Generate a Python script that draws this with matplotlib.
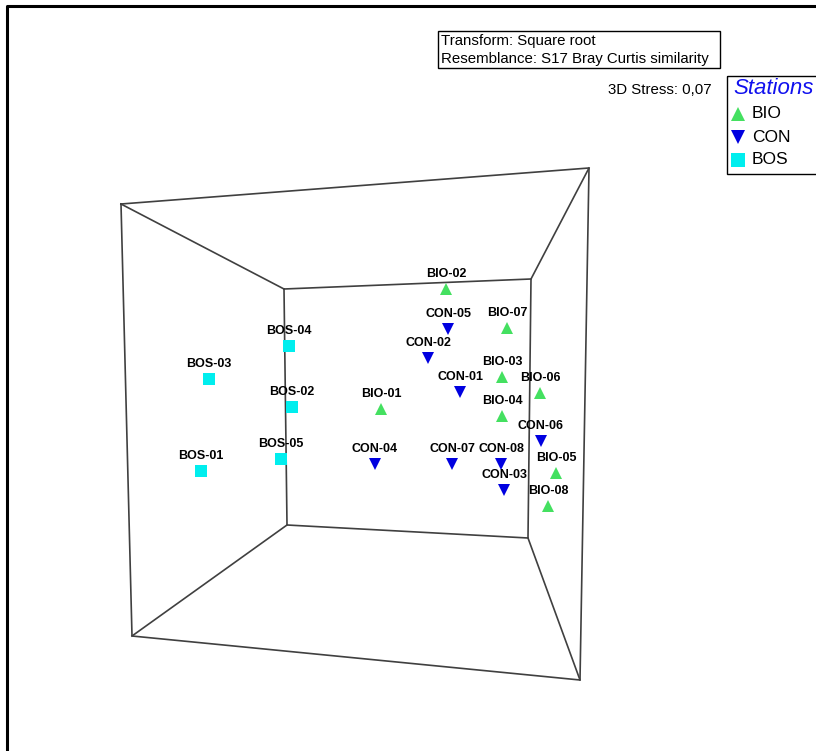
import matplotlib.pyplot as plt
from matplotlib.patches import Rectangle

# station positions in the 2D projection of the 3D MDS (picture units)
bio_names = ["BIO-01", "BIO-02", "BIO-03", "BIO-04", "BIO-05", "BIO-06", "BIO-07", "BIO-08"]
bio_x = [381, 446, 502, 502, 556, 540, 507, 548]
bio_y = [409, 289, 377, 416, 473, 393, 328, 506]

con_names = ["CON-01", "CON-02", "CON-03", "CON-04", "CON-05", "CON-06", "CON-07", "CON-08"]
con_x = [460, 428, 504, 375, 448, 541, 452, 501]
con_y = [392, 358, 490, 464, 329, 441, 464, 464]

bos_names = ["BOS-01", "BOS-02", "BOS-03", "BOS-04", "BOS-05"]
bos_x = [201, 292, 209, 289, 281]
bos_y = [471, 407, 379, 346, 459]

# corners of the 3D box: top-left, top-right, bottom-right, bottom-left
outer_x = [121, 589, 580, 132]
outer_y = [204, 168, 680, 636]
inner_x = [284, 531, 528, 287]
inner_y = [289, 279, 538, 525]

groups = ["BIO", "CON", "BOS"]
markers = ["^", "v", "s"]
colors = ["#44e060", "#0000e0", "#00eeee"]

plt.rcParams['font.family'] = ['Liberation Sans', 'DejaVu Sans']

fig = plt.figure(figsize=(8.16, 7.51), dpi=100)
ax = fig.add_axes([0, 0, 1, 1])
ax.set_xlim(0, 816)
ax.set_ylim(751, 0)
ax.axis("off")

# outer frame (left and top edges visible)
ax.plot([7, 7, 816], [751, 6, 6], color="black", lw=2.2, solid_capstyle="butt")

# box edges
box_kw = dict(color="#404040", lw=1.2, zorder=1)
ax.plot(outer_x + outer_x[:1], outer_y + outer_y[:1], **box_kw)
ax.plot(inner_x + inner_x[:1], inner_y + inner_y[:1], **box_kw)
for i in range(4):
    ax.plot([outer_x[i], inner_x[i]], [outer_y[i], inner_y[i]], **box_kw)

# points and labels
data = [(bio_names, bio_x, bio_y), (con_names, con_x, con_y), (bos_names, bos_x, bos_y)]
sizes = [9, 9, 8]
for (names, xs, ys), m, c, s in zip(data, markers, colors, sizes):
    ax.plot(xs, ys, linestyle="none", marker=m, color=c, markersize=s,
            markeredgewidth=0, zorder=3)
    for n, x, y in zip(names, xs, ys):
        ax.annotate(n, (x, y), xytext=(0, 10.5), textcoords="offset points",
                    ha="center", va="center", fontsize=9, fontweight="bold",
                    color="black", zorder=4)

# info box
ax.add_patch(Rectangle((438, 31), 282, 37, fill=False, edgecolor="black", lw=1))
ax.text(441, 41, "Transform: Square root", fontsize=10.8, va="center", ha="left")
ax.text(441, 59, "Resemblance: S17 Bray Curtis similarity", fontsize=10.8,
        va="center", ha="left")
ax.text(712, 90, "3D Stress: 0,07", fontsize=10.8, va="center", ha="right")

# legend
ax.add_patch(Rectangle((727, 76), 100, 98, fill=False, edgecolor="black", lw=1,
                       clip_on=False))
ax.text(733, 89, "Stations", fontsize=16, style="italic", color="#1010ee",
        va="center", ha="left")
leg_y = [114, 137, 160]
for g, m, c, yy in zip(groups, markers, colors, leg_y):
    ax.plot([738], [yy], linestyle="none", marker=m, color=c, markersize=10,
            markeredgewidth=0)
    ax.text(752, yy, g, fontsize=12.5, va="center", ha="left")

fig.savefig("out.png", dpi=100)
